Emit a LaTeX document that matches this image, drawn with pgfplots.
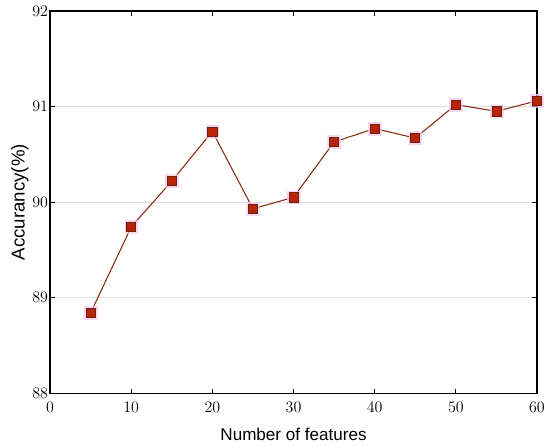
\documentclass[border=0pt]{standalone}
\usepackage{pgfplots}
\usepackage{pgfplotstable}
\pgfplotsset{compat=1.18}
\usepackage{fontspec}
\newfontfamily\labelfont{Liberation Sans}
\definecolor{markred}{HTML}{B8240A}
\definecolor{linebrown}{HTML}{8A2A10}
\definecolor{halo}{HTML}{F7C8EC}

\pgfplotstableread{
n   acc
5   88.84
10  89.74
15  90.22
20  90.74
25  89.93
30  90.05
35  90.63
40  90.77
45  90.67
50  91.02
55  90.95
60  91.06
}\accdata

\begin{document}
\begin{tikzpicture}
\begin{axis}[
    scale only axis,
    width=365pt, height=286.5pt,
    xmin=0, xmax=60, ymin=88, ymax=92,
    xtick={0,10,...,60},
    ytick={88,89,90,91,92},
    ymajorgrids=true,
    grid style={draw=black!12, line width=0.8pt},
    axis line style={line width=0.8pt},
    major tick length=3.5pt,
    tick style={black, line width=0.6pt},
    ticklabel style={font=\fontsize{11.5}{13}\selectfont},
    xticklabel style={yshift=-3pt},
    yticklabel style={xshift=2pt},
    xlabel={Number of features},
    ylabel={Accurancy(\%)},
    xlabel style={font=\labelfont\fontsize{12.8}{15}\selectfont, yshift=-5pt},
    ylabel style={font=\labelfont\fontsize{14}{16}\selectfont, yshift=-4pt},
]
\addplot[only marks, color=halo, mark=square*, mark size=4.8pt,
    mark options={fill=halo, draw=halo}, opacity=0.7] table[x=n, y=acc] {\accdata};
\addplot[color=linebrown, line width=0.8pt, mark=square*, mark size=3.4pt,
    mark options={fill=markred, draw=linebrown!80!black, line width=0.5pt}] table[x=n, y=acc] {\accdata};
\end{axis}
\path ([xshift=-37.5pt,yshift=-39.75pt]current axis.south west)
    rectangle ([xshift=9.75pt,yshift=8.25pt]current axis.north east);
\end{tikzpicture}
\end{document}
